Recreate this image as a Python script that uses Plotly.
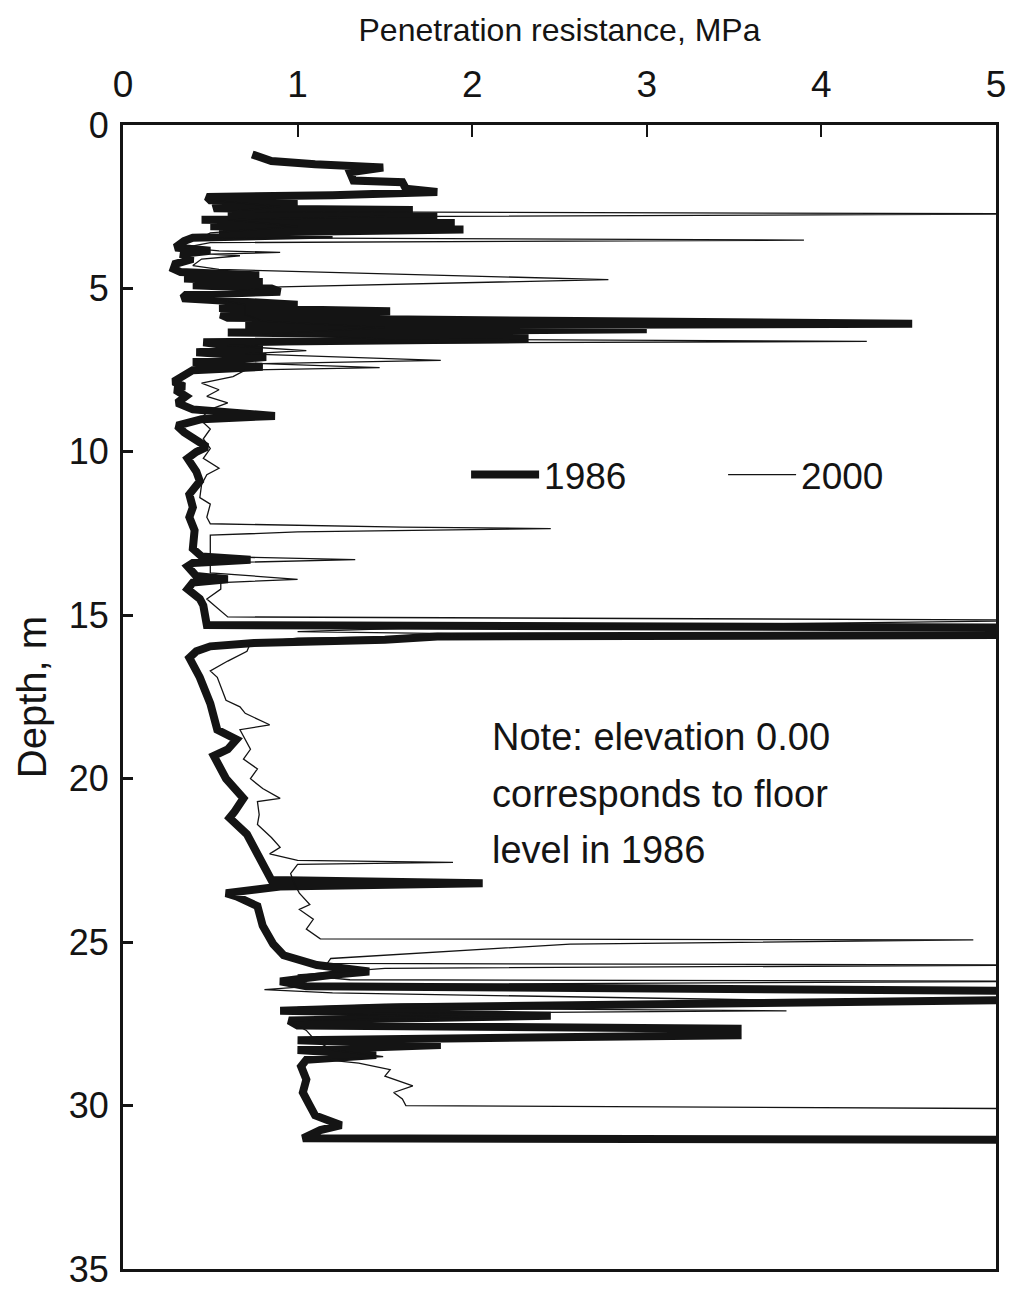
import plotly.graph_objects as go

# 1986 profile: depth (m) and penetration resistance (MPa)
depth_1986 = [0.9, 1.1, 1.2, 1.3, 1.45, 1.7, 1.75, 1.95, 2.05, 2.15, 2.2, 2.3, 2.35, 2.45, 2.55,
              2.6, 2.7, 2.8, 2.9, 3.0, 3.1, 3.2, 3.3, 3.35, 3.45, 3.55, 3.75, 3.85, 3.95, 4.1,
              4.25, 4.4, 4.5, 4.6, 4.7, 4.8, 4.9, 5.0, 5.1, 5.2, 5.3, 5.4, 5.5, 5.6, 5.7,
              5.8, 5.9, 6.0, 6.08, 6.15, 6.25, 6.35, 6.45, 6.55, 6.65, 6.75, 6.85, 6.95, 7.1,
              7.25, 7.4, 7.5, 7.7, 7.85, 8.0, 8.1, 8.3, 8.5, 8.7, 8.9, 9.0, 9.2, 9.4, 9.7,
              9.85, 10.0, 10.2, 10.6, 10.9, 11.3, 11.7, 12.0, 12.4, 12.96, 13.2, 13.3, 13.4,
              13.5, 13.8, 13.9, 14.0, 14.2, 14.5, 14.7, 15.0, 15.3, 15.38, 15.6, 15.65, 15.75,
              15.85, 15.95, 16.1, 16.3, 16.9, 17.7, 18.5, 18.8, 19.1, 19.3, 20.0, 20.6, 21.0,
              21.2, 21.7, 22.3, 22.9, 23.1, 23.2, 23.3, 23.5, 23.6, 23.9, 24.5, 25.06, 25.4,
              25.7, 25.9, 26.0, 26.2, 26.35, 26.5, 26.75, 27.0, 27.1, 27.25, 27.4, 27.55,
              27.65, 27.85, 28.0, 28.15, 28.3, 28.45, 28.6, 28.8, 29.2, 29.6, 30.0, 30.3,
              30.5, 30.6, 30.75, 30.9, 31.0, 31.05]
q_1986 = [0.74, 0.85, 1.1, 1.49, 1.3, 1.32, 1.6, 1.62, 1.80, 1.2, 0.48, 0.5, 1.0, 0.55, 0.52,
          1.66, 0.6, 1.8, 0.45, 1.9, 0.5, 1.95, 0.55, 1.2, 0.4, 0.35, 0.3, 0.5, 0.33, 0.4,
          0.3, 0.29, 0.33, 0.78, 0.35, 0.8, 0.4, 0.85, 0.9, 0.36, 0.34, 0.67, 1.0, 0.55, 1.53,
          0.56, 0.6, 2.6, 4.52, 0.7, 3.0, 0.6, 2.3, 2.3, 0.46, 0.6, 0.8, 0.42, 0.82,
          0.4, 0.8, 0.4, 0.33, 0.29, 0.35, 0.3, 0.36, 0.31, 0.4, 0.87, 0.45, 0.31, 0.35, 0.44,
          0.48, 0.42, 0.37, 0.42, 0.44, 0.38, 0.40, 0.38, 0.41, 0.4, 0.45, 0.73, 0.40,
          0.37, 0.42, 0.6, 0.40, 0.37, 0.44, 0.46, 0.47, 0.48, 5.4, 5.4, 1.8, 1.5,
          0.75, 0.5, 0.42, 0.38, 0.44, 0.5, 0.54, 0.65, 0.6, 0.52, 0.59, 0.69, 0.64,
          0.61, 0.71, 0.77, 0.82, 0.85, 2.06, 0.9, 0.59, 0.65, 0.77, 0.8, 0.86, 0.92,
          1.11, 1.41, 1.2, 0.9, 1.05, 5.4, 5.4, 1.5, 0.9, 2.45, 0.95, 1.0,
          3.52, 3.52, 1.0, 1.82, 1.0, 1.45, 1.05, 1.02, 1.05, 1.03, 1.07, 1.1,
          1.2, 1.25, 1.13, 1.05, 1.03, 5.4]

# 2000 profile
depth_2000 = [2.3, 2.5, 2.65, 2.72, 2.8, 2.9, 3.1, 3.3, 3.45, 3.52, 3.6, 3.75, 3.85, 3.9, 3.95,
              4.0, 4.1, 4.3, 4.42, 4.73, 4.95, 5.1, 5.3, 5.5, 5.8, 6.0, 6.2, 6.4, 6.55, 6.62,
              6.68, 6.75, 6.9, 7.0, 7.2, 7.3, 7.42, 7.5, 7.7, 7.9, 8.1, 8.3, 8.5, 8.7, 9.0,
              9.3, 9.6, 9.9, 10.2, 10.5, 10.7, 11.0, 11.4, 11.6, 12.0, 12.2, 12.3, 12.35, 12.45,
              12.55, 12.9, 13.2, 13.3, 13.4, 13.7, 13.9, 14.0, 14.2, 14.5, 14.9, 15.05, 15.15,
              15.4, 15.5, 15.6, 15.7, 15.85, 16.1, 16.4, 16.7, 16.9, 17.6, 17.8, 18.0, 18.35,
              18.5, 19.1, 19.4, 19.7, 20.0, 20.3, 20.6, 20.7, 21.1, 21.4, 21.8, 22.1, 22.3,
              22.5, 22.56, 22.62, 22.9, 23.2, 23.5, 23.85, 24.0, 24.3, 24.6, 24.9, 24.93, 25.06,
              25.5, 25.65, 25.7, 25.8, 26.0, 26.15, 26.2, 26.3, 26.45, 26.55, 26.8, 26.9, 27.0,
              27.1, 27.2, 27.3, 27.4, 27.7, 28.0, 28.3, 28.5, 28.6, 28.7, 28.9, 29.1, 29.4,
              29.6, 29.8, 30.0, 30.1]
q_2000 = [0.5, 0.9, 0.6, 5.4, 1.5, 0.6, 1.0, 0.5, 0.45, 3.9, 0.5, 0.35, 0.55, 0.9, 0.5,
          0.67, 0.45, 0.4, 0.55, 2.78, 0.9, 0.6, 0.5, 0.7, 0.7, 0.8, 1.5, 0.8, 1.5, 4.26,
          1.2, 0.6, 1.05, 0.7, 1.82, 0.8, 1.47, 0.7, 0.63, 0.45, 0.55, 0.48, 0.6, 0.5, 0.44,
          0.5, 0.46, 0.5, 0.46, 0.55, 0.48, 0.45, 0.44, 0.5, 0.48, 0.5, 1.6, 2.45, 1.0,
          0.5, 0.5, 0.5, 1.33, 0.5, 0.5, 1.0, 0.56, 0.56, 0.48, 0.57, 0.6, 5.4,
          1.6, 1.0, 2.5, 1.0, 0.73, 0.71, 0.6, 0.5, 0.54, 0.59, 0.67, 0.7, 0.84,
          0.67, 0.73, 0.69, 0.77, 0.73, 0.8, 0.9, 0.77, 0.78, 0.77, 0.85, 0.9, 0.84,
          1.0, 1.89, 1.0, 0.96, 0.98, 1.01, 1.07, 1.01, 1.09, 1.05, 1.13, 4.87, 2.56,
          1.19, 1.17, 5.4, 1.5, 1.0, 1.3, 5.4, 1.2, 0.81, 1.2, 4.0, 1.6, 1.0,
          3.8, 1.0, 2.2, 0.95, 1.05, 1.1, 1.2, 1.49, 1.17, 1.35, 1.53, 1.5, 1.66,
          1.55, 1.6, 1.62, 5.4]

x_ticks = [0, 1, 2, 3, 4, 5]
y_ticks = [0, 5, 10, 15, 20, 25, 30, 35]

note_lines = ["Note: elevation 0.00", "corresponds to floor", "level in 1986"]

FONT = "Liberation Sans, Arial, sans-serif"
INK = "#141414"

fig = go.Figure()
fig.add_trace(go.Scatter(x=q_1986, y=depth_1986, mode="lines", name="1986",
                         line=dict(color=INK, width=8)))
fig.add_trace(go.Scatter(x=q_2000, y=depth_2000, mode="lines", name="2000",
                         line=dict(color=INK, width=1.3)))

note_y = [0.465, 0.415, 0.366]
annotations = [dict(text=t, x=0.42, y=yy, xref="paper", yref="paper", xanchor="left",
                    yanchor="middle", align="left", showarrow=False,
                    font=dict(size=38, family=FONT, color=INK))
               for t, yy in zip(note_lines, note_y)]

fig.update_layout(
    width=1013, height=1291,
    margin=dict(l=123, r=17, t=125, b=22, pad=0),
    paper_bgcolor="white", plot_bgcolor="white",
    font=dict(family=FONT, color=INK),
    showlegend=True,
    legend=dict(orientation="h", x=0.393, y=0.694, xanchor="left", yanchor="middle",
                font=dict(size=37, family=FONT), bgcolor="rgba(0,0,0,0)",
                itemwidth=68, entrywidth=174, entrywidthmode="pixels", traceorder="normal"),
    annotations=annotations,
)
fig.update_xaxes(range=[0, 5], side="top", tickvals=x_ticks, ticktext=[str(v) for v in x_ticks],
                 ticks="inside", ticklen=12, tickwidth=2, tickcolor=INK,
                 showline=True, linewidth=3, linecolor=INK, mirror=True,
                 showgrid=False, zeroline=False, tickfont=dict(size=37),
                 ticklabelstandoff=10, ticklabeloverflow="allow", automargin=False,
                 title=dict(text="Penetration resistance, MPa", font=dict(size=32), standoff=14))
fig.update_yaxes(range=[35, 0], tickvals=y_ticks, ticktext=[str(v) for v in y_ticks],
                 ticks="inside", ticklen=10, tickwidth=3, tickcolor=INK,
                 showline=True, linewidth=3, linecolor=INK, mirror=True,
                 showgrid=False, zeroline=False, tickfont=dict(size=36),
                 ticklabelstandoff=4, ticklabeloverflow="allow", automargin=False,
                 title=dict(text="Depth, m", font=dict(size=40), standoff=10))

fig.write_html("out.html", config={"displayModeBar": False},
               post_script="document.body.style.margin='0';")
